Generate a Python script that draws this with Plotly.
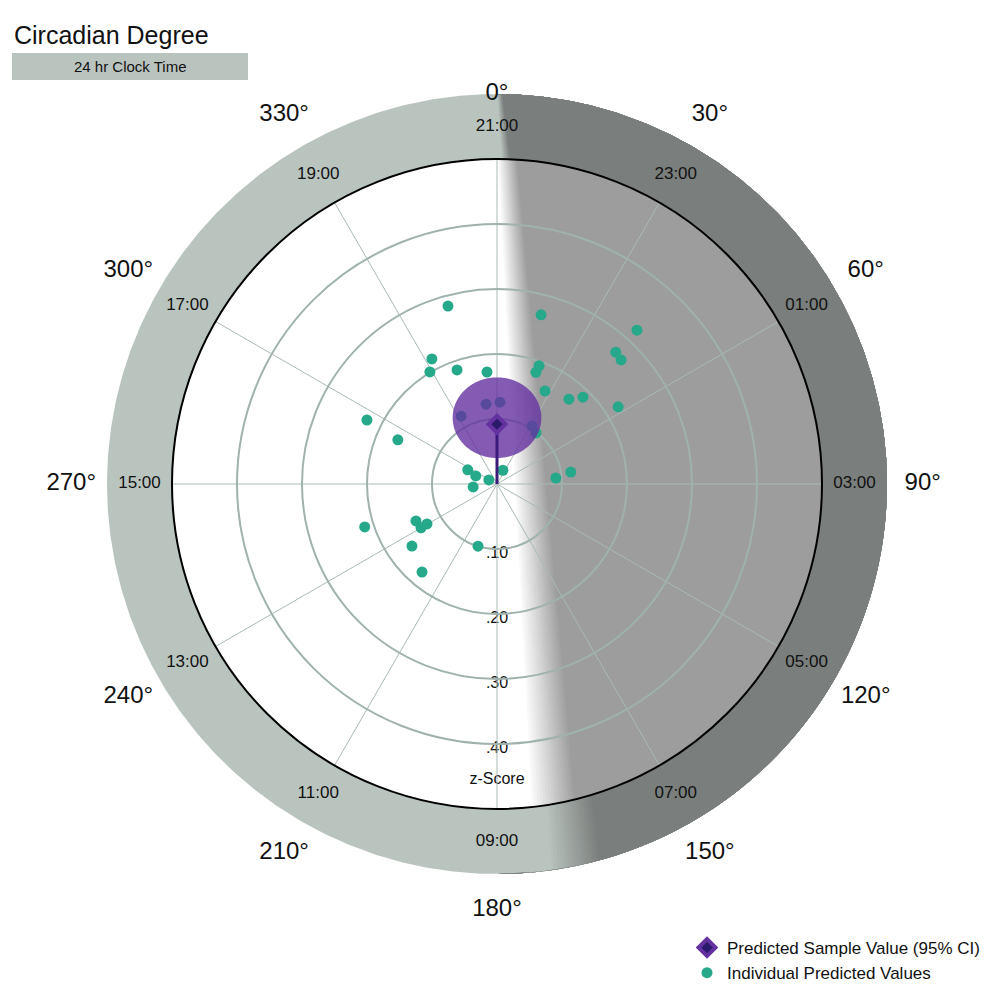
import numpy as np
import plotly.graph_objects as go

# ---- data ----
deg_labels = ["0°","30°","60°","90°","120°","150°","180°","210°","240°","270°","300°","330°"]
clock_labels = ["21:00","23:00","01:00","03:00","05:00","07:00","09:00","11:00","13:00","15:00","17:00","19:00"]
label_angles = [0,30,60,90,120,150,180,210,240,270,300,330]
z_ticks = [0.1,0.2,0.3,0.4]
z_tick_text = [".10",".20",".30",".40"]
ind_r = [0.284,0.269,0.320,0.273,0.270,0.217,0.201,0.186,0.173,0.193,0.182,0.161,0.171,0.188,0.221,
         0.118,0.124,0.126,0.104,0.099,0.223,0.167,0.023,0.050,0.035,0.037,0.014,0.091,0.115,
         0.214,0.137,0.124,0.135,0.162,0.178,0.100]
ind_theta = [344.6,14.6,42.3,42.0,45,332.5,329.1,340.7,354.9,19.6,19.2,27.3,40.3,44.7,57.5,
             332.1,352.2,2.1,31.1,37.4,296.2,294,23.2,295.8,290.9,263,296.6,84.2,80.8,
             252,245.5,240.3,240,233.9,220.4,197]
pred_r = 0.092
pred_theta = 0
pred_ci = 0.062

W, H = 993, 1000
OFF = 8  # page body margin
cx, cy, ppu = 497 - OFF, 484 - OFF, 650.0
xr = [-cx/ppu, (W-cx)/ppu]
yr = [-(H-cy)/ppu, cy/ppu]

fig = go.Figure()
t = np.linspace(0, 2*np.pi, 721)

def disk(R, color):
    fig.add_trace(go.Scatter(x=R*np.cos(t), y=R*np.sin(t), fill="toself", fillcolor=color,
                             mode="lines", line=dict(width=0), hoverinfo="skip", showlegend=False))

def shade(R, c0, c1, b_top, b_bot, w_top, w_bot, n=16):
    c0 = np.array(c0); c1 = np.array(c1)
    x = R*np.cos(t); y = R*np.sin(t)
    s = (R-y)/(2*R)
    for k in range(n+1):
        f = k/n
        L = b_top + (b_bot-b_top)*s + f*(w_top + (w_bot-w_top)*s)
        xe = np.sqrt(np.clip(R**2-y**2, 0, None))
        xx = np.minimum(np.maximum(x, L), xe)
        c = c0 + (c1-c0)*f
        col = "rgb(%d,%d,%d)" % tuple(c)
        fig.add_trace(go.Scatter(x=xx, y=y, fill="toself", fillcolor=col, mode="lines",
                                 line=dict(width=0), hoverinfo="skip", showlegend=False))

disk(0.6, "#bac4bf")
shade(0.6, (186,196,191), (122,126,124), 0.0, 0.08, 0.008, 0.08)
disk(0.5, "#ffffff")
shade(0.5, (255,255,255), (157,157,157), 0.0, 0.05, 0.03, 0.07)

# labels
a = np.radians(label_angles)
rc = 0.55
fig.add_trace(go.Scatter(x=rc*np.sin(a), y=rc*np.cos(a), mode="text", text=clock_labels,
                         textfont=dict(size=17, color="#111", family="Liberation Sans"),
                         hoverinfo="skip", showlegend=False))
rd = np.array([0.60 if d == 0 else 0.655 for d in label_angles])
fig.add_trace(go.Scatter(x=rd*np.sin(a), y=rd*np.cos(a), mode="text", text=deg_labels,
                         textfont=dict(size=24, color="#111", family="Liberation Sans"),
                         hoverinfo="skip", showlegend=False))
fig.add_trace(go.Scatter(x=[0]*len(z_ticks)+[0], y=[-(v+0.008) for v in z_ticks]+[-0.455],
                         mode="text", text=z_tick_text+["z-Score"],
                         textfont=dict(size=16, color="#111", family="Liberation Sans"),
                         hoverinfo="skip", showlegend=False))

# polar traces
fig.add_trace(go.Scatterpolar(r=ind_r, theta=ind_theta, mode="markers", name="Individual Predicted Values",
                              marker=dict(size=11, color="#26a88a"), subplot="polar"))
px = pred_r*np.sin(np.radians(pred_theta)); py = pred_r*np.cos(np.radians(pred_theta))
ex = px + pred_ci*1.1*np.sin(t); ey = py + 0.01 + pred_ci*np.cos(t)
fig.add_trace(go.Scatterpolar(r=np.hypot(ex, ey), theta=np.degrees(np.arctan2(ex, ey)), mode="lines",
                              fill="toself", fillcolor="rgba(100,50,160,0.8)", line=dict(width=0),
                              name="Predicted Sample Value (95% CI)", subplot="polar", showlegend=False))
fig.add_trace(go.Scatterpolar(r=[0, pred_r], theta=[pred_theta, pred_theta], mode="lines",
                              line=dict(color="#3a1a7a", width=3), subplot="polar", showlegend=False))
fig.add_trace(go.Scatterpolar(r=[pred_r], theta=[pred_theta], mode="markers",
                              marker=dict(symbol="diamond", size=13, color="#2a1a6b",
                                          line=dict(color="rgba(100,50,160,1)", width=4)),
                              name="Predicted Sample Value (95% CI)", subplot="polar"))

fig.update_layout(
    width=W, height=H, margin=dict(l=0, r=0, t=0, b=0), paper_bgcolor="white", plot_bgcolor="white",
    xaxis=dict(range=xr, domain=[0,1], visible=False, fixedrange=True),
    yaxis=dict(range=yr, domain=[0,1], visible=False, fixedrange=True),
    polar=dict(domain=dict(x=[(cx-325)/W, (cx+325)/W], y=[(H-cy-325)/H, (H-cy+325)/H]),
               bgcolor="rgba(0,0,0,0)",
               radialaxis=dict(range=[0,0.5], tickvals=z_ticks, showticklabels=False, ticks="",
                               showline=False, gridcolor="#9fb2ae", gridwidth=1.5),
               angularaxis=dict(rotation=90, direction="clockwise", tickvals=label_angles,
                                showticklabels=False, ticks="", linecolor="black", linewidth=2,
                                gridcolor="#a9bab6", gridwidth=1.2)),
    legend=dict(x=(985-OFF)/W, y=1-(930-OFF)/H, xanchor="right", yanchor="top",
                font=dict(size=17, family="Liberation Sans", color="#111"),
                bgcolor="rgba(0,0,0,0)", traceorder="reversed"),
    shapes=[dict(type="rect", xref="paper", yref="paper", x0=(12-OFF)/W, x1=(248-OFF)/W,
                 y0=1-(80-OFF)/H, y1=1-(53-OFF)/H, fillcolor="#bac4bf", line=dict(width=0))],
    annotations=[dict(text="Circadian Degree", xref="paper", yref="paper", x=(12-OFF)/W, y=1-(35-OFF)/H,
                      xanchor="left", yanchor="middle",
                      showarrow=False, font=dict(size=25, family="Liberation Sans", color="#111")),
                 dict(text="24 hr Clock Time", xref="paper", yref="paper", x=(130-OFF)/W, y=1-(66.5-OFF)/H,
                      xanchor="center", yanchor="middle",
                      showarrow=False, font=dict(size=15, family="Liberation Sans", color="#111"))],
)
fig.write_html("out.html")
